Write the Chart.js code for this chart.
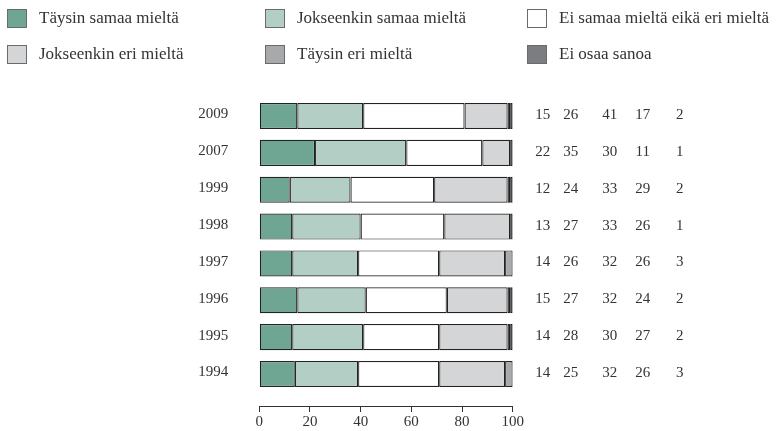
<!DOCTYPE html>
<html lang="fi">
<head>
<meta charset="utf-8">
<title>Mielipiteet 1994–2009</title>
<script src="https://cdn.jsdelivr.net/npm/chart.js@4.4.1/dist/chart.umd.min.js"></script>
<style>
  html, body { margin: 0; padding: 0; background: #fff; }
  #wrap { position: relative; width: 778px; height: 431px; }
  #chart { position: absolute; left: 0; top: 0; }
  #legend { position: absolute; left: 0; top: 0; width: 778px; height: 72px;
    font-family: "Liberation Serif", serif; font-size: 17px; color: #333; }
  .item { position: absolute; display: flex; align-items: center; white-space: nowrap; height: 20px; }
  .box { width: 18px; height: 17px; border: 1px solid #6a6a6a; margin-right: 12px; box-sizing: content-box; }
</style>
</head>
<body>
<div id="wrap">
  <canvas id="chart" width="778" height="431"></canvas>
  <div id="legend"></div>
</div>
<script>
// vuodet ylhäältä alas
const years = ["2009", "2007", "1999", "1998", "1997", "1996", "1995", "1994"];

// palkkien osuudet (%) luettu kuvasta
const taysinSamaa     = [15, 22, 12, 13, 13, 15, 13, 14];
const jokseenkinSamaa = [26, 36, 24, 27, 26, 27, 28, 25];
const eiSamaaEikaEri  = [40, 30, 33, 33, 32, 32, 30, 32];
const jokseenkinEri   = [17, 11, 29, 26, 26, 24, 27, 26];
const taysinEri       = [1, 1, 1, 1, 3, 1, 1, 3];
const eiOsaaSanoa     = [1, 0, 1, 0, 0, 1, 1, 0];

// oikean reunan lukusarakkeet
const shownTaysinSamaa     = [15, 22, 12, 13, 14, 15, 14, 14];
const shownJokseenkinSamaa = [26, 35, 24, 27, 26, 27, 28, 25];
const shownEiSamaaEikaEri  = [41, 30, 33, 33, 32, 32, 30, 32];
const shownJokseenkinEri   = [17, 11, 29, 26, 26, 24, 27, 26];
const shownTaysinEri       = [2, 1, 2, 1, 3, 2, 2, 3];

const xTicks = [0, 20, 40, 60, 80, 100];

const series = [
  { label: "Täysin samaa mieltä", data: taysinSamaa, color: "#6fa593" },
  { label: "Jokseenkin samaa mieltä", data: jokseenkinSamaa, color: "#b3cfc5" },
  { label: "Ei samaa mieltä eikä eri mieltä", data: eiSamaaEikaEri, color: "#ffffff" },
  { label: "Jokseenkin eri mieltä", data: jokseenkinEri, color: "#d4d5d7" },
  { label: "Täysin eri mieltä", data: taysinEri, color: "#a8a9ab" },
  { label: "Ei osaa sanoa", data: eiOsaaSanoa, color: "#7c7d80" }
];

// legenda: 3 saraketta x 2 riviä
const legendCols = [7, 265, 527];
const legendRows = [8, 44];
const legendBox = document.getElementById("legend");
series.forEach((s, i) => {
  const item = document.createElement("div");
  item.className = "item";
  item.style.left = legendCols[i % 3] + "px";
  item.style.top = legendRows[Math.floor(i / 3)] + "px";
  const box = document.createElement("span");
  box.className = "box";
  box.style.background = s.color;
  const txt = document.createElement("span");
  txt.textContent = s.label;
  item.appendChild(box);
  item.appendChild(txt);
  legendBox.appendChild(item);
});

const shownColumns = [shownTaysinSamaa, shownJokseenkinSamaa, shownEiSamaaEikaEri, shownJokseenkinEri, shownTaysinEri];
const columnOffsets = [30, 58, 97, 130, 167];

const numbersPlugin = {
  id: "numbers",
  afterDraw(chart) {
    const ctx = chart.ctx;
    const yScale = chart.scales.y;
    const right = chart.chartArea.right;
    ctx.save();
    ctx.font = '15px "Liberation Serif", serif';
    ctx.fillStyle = "#333";
    ctx.textAlign = "center";
    ctx.textBaseline = "alphabetic";
    years.forEach((yr, i) => {
      const y = yScale.getPixelForValue(i) + 3;
      shownColumns.forEach((col, c) => {
        ctx.fillText(String(col[i]), right + columnOffsets[c], y);
      });
    });
    ctx.restore();
  }
};

Chart.defaults.font.family = '"Liberation Serif", serif';
Chart.defaults.font.size = 15;
Chart.defaults.color = "#333";

new Chart(document.getElementById("chart"), {
  type: "bar",
  data: {
    labels: years,
    datasets: series.map(s => ({
      label: s.label,
      data: s.data,
      backgroundColor: s.color,
      borderColor: "#222",
      borderWidth: 1.2,
      borderSkipped: false,
      barPercentage: 0.706,
      categoryPercentage: 1
    }))
  },
  options: {
    responsive: false,
    animation: false,
    indexAxis: "y",
    layout: { padding: { top: 97.6, bottom: 38.6, left: 0, right: 265.3 } },
    plugins: { legend: { display: false }, tooltip: { enabled: false } },
    scales: {
      x: {
        stacked: true,
        min: 0,
        max: 100,
        position: { y: 7.887 },
        afterBuildTicks(scale) { scale.ticks = xTicks.map(v => ({ value: v })); },
        ticks: { padding: 1, color: "#333" },
        grid: { drawOnChartArea: false, drawTicks: true, tickLength: 5, color: "#333", tickColor: "#333" },
        border: { display: true, color: "#333", width: 1 }
      },
      y: {
        stacked: true,
        grid: { display: false },
        border: { display: false },
        ticks: { padding: 23, color: "#333", labelOffset: -1.5 },
        afterFit(scale) { scale.width = 259.3; }
      }
    }
  },
  plugins: [numbersPlugin]
});
</script>
</body>
</html>
